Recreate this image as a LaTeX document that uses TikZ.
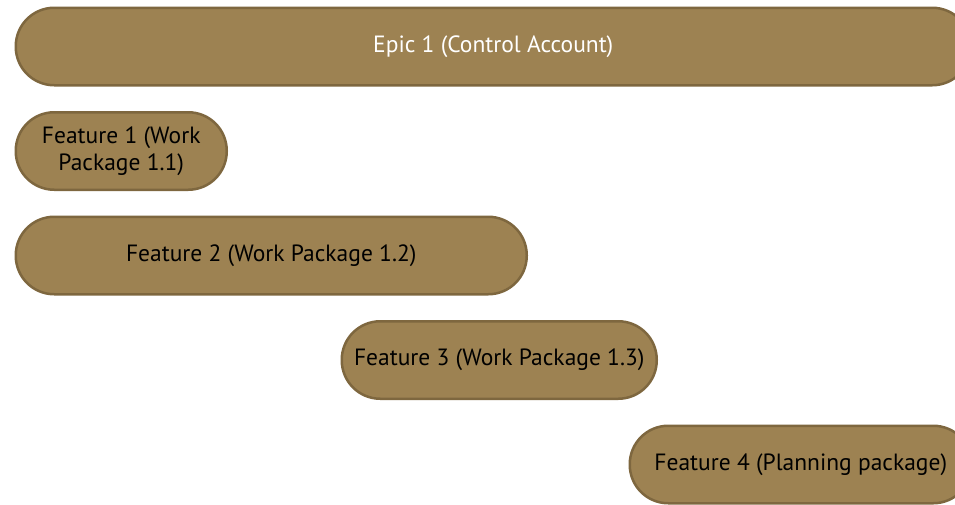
\documentclass[tikz,border=0pt]{standalone}
\usepackage{fontspec}
\setmainfont{PT Sans}
\definecolor{barfill}{RGB}{157,130,82}
\definecolor{barline}{RGB}{126,103,63}
\begin{document}
\begin{tikzpicture}[x=1pt,y=1pt,
  bar/.style={draw=barline, fill=barfill, line width=2.5pt, rounded corners=38.5pt,
    minimum height=77.5pt, inner sep=0pt, font=\fontsize{23.5}{27}\selectfont, align=center},
  lighttext/.style={text=white},
  darktext/.style={text=black}]
\useasboundingbox (0,0) rectangle (955,-504);
\clip (0,0) rectangle (955,-504);
\node[bar, lighttext, minimum width=955pt, anchor=north west] (epic) at (14.5,-6.5) {Epic 1 (Control Account)};
\node[bar, darktext, minimum width=211pt, anchor=north west] (f1) at (14.5,-111) {Feature 1 (Work\\Package 1.1)};
\node[bar, darktext, minimum width=511pt, anchor=north west] (f2) at (14.5,-215.5) {Feature 2 (Work Package 1.2)};
\node[bar, darktext, minimum width=315pt, anchor=north west] (f3) at (340.5,-320) {Feature 3 (Work Package 1.3)};
\node[bar, darktext, minimum width=342pt, anchor=north west] (f4) at (628.5,-424.5) {Feature 4 (Planning package)};
\end{tikzpicture}
\end{document}
